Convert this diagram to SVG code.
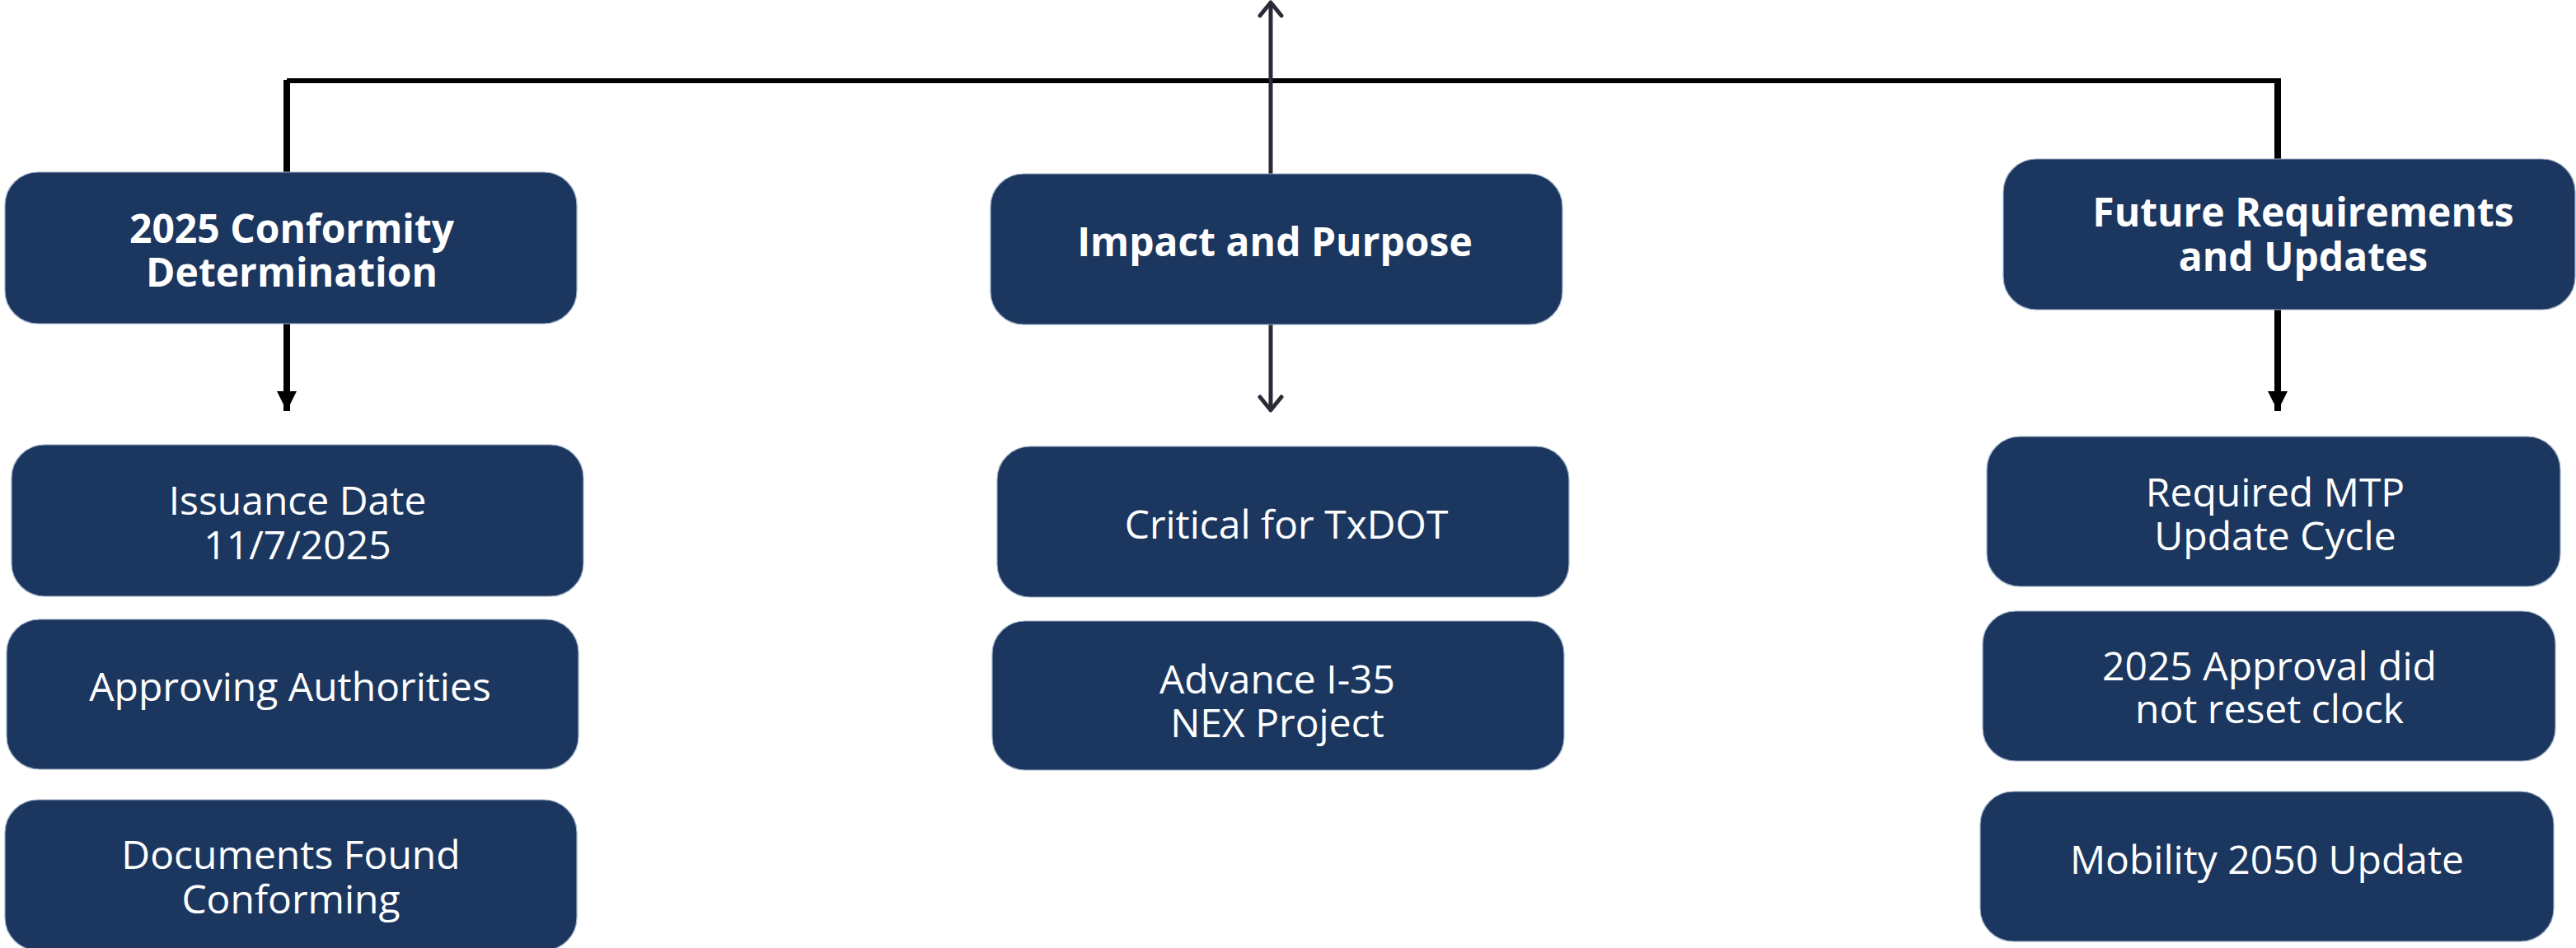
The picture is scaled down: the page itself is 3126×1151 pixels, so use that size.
<svg xmlns="http://www.w3.org/2000/svg" width="3126" height="1151" viewBox="0 0 3126 1151">
<defs>
<style>
.box{fill:#1b375f;stroke:#9fb0c6;stroke-width:1.2}
.h{font-family:"Open Sans","Noto Sans",sans-serif;font-weight:700;font-size:48px;fill:#fff;text-anchor:middle}
.t{font-family:"Open Sans","Noto Sans",sans-serif;font-weight:400;font-size:48px;fill:#fff;text-anchor:middle}
.blk{stroke:#000;stroke-width:8;fill:none}
.hz{stroke:#000;stroke-width:6;fill:none}
.mid{stroke:#2b2b38;stroke-width:5;fill:none}
</style>
<marker id="tri" viewBox="0 0 24 24" markerWidth="24" markerHeight="24" refX="24" refY="12" orient="auto" markerUnits="userSpaceOnUse">
<path d="M0,0 L24,12 L0,24 Z" fill="#000"/>
</marker>
<marker id="chev" viewBox="0 0 22 32" markerWidth="22" markerHeight="32" refX="19" refY="16" orient="auto" markerUnits="userSpaceOnUse">
<path d="M3,3 L19,16 L3,29" fill="none" stroke="#2b2b38" stroke-width="5" stroke-linecap="round" stroke-linejoin="round"/>
</marker>
</defs>
<rect width="3126" height="1151" fill="#fff"/>
<g id="connectors">
<path class="hz" d="M348,98 L2768,98"/>
<path class="blk" d="M348,97 L348,210"/>
<path class="blk" d="M2764,97 L2764,193"/>
<path class="blk" d="M348,393 L348,499" marker-end="url(#tri)"/>
<path class="blk" d="M2764,376 L2764,499" marker-end="url(#tri)"/>
<path class="mid" d="M1542,211 L1542,3" marker-end="url(#chev)"/>
<path class="mid" d="M1542,394 L1542,498" marker-end="url(#chev)"/>
</g>
<g id="n-conformity">
<rect class="box" x="6" y="209" width="694" height="184" rx="40"/>
<text class="h" x="354" y="295">2025 Conformity</text>
<text class="h" x="354" y="348">Determination</text>
</g>
<g id="n-impact">
<rect class="box" x="1202" y="211" width="694" height="183" rx="40"/>
<text class="h" x="1547" y="311">Impact and Purpose</text>
</g>
<g id="n-future">
<rect class="box" x="2431" y="193" width="694" height="183" rx="40"/>
<text class="h" x="2795" y="275">Future Requirements</text>
<text class="h" x="2795" y="329">and Updates</text>
</g>
<g id="n-issuance">
<rect class="box" x="14" y="540" width="694" height="184" rx="40"/>
<text class="t" x="361" y="625">Issuance Date</text>
<text class="t" x="361" y="679">11/7/2025</text>
</g>
<g id="n-approving">
<rect class="box" x="8" y="752" width="694" height="182" rx="40"/>
<text class="t" x="352" y="851">Approving Authorities</text>
</g>
<g id="n-documents">
<rect class="box" x="6" y="971" width="694" height="183" rx="40"/>
<text class="t" x="353" y="1055">Documents Found</text>
<text class="t" x="353" y="1109">Conforming</text>
</g>
<g id="n-critical">
<rect class="box" x="1210" y="542" width="694" height="183" rx="40"/>
<text class="t" x="1561" y="654">Critical for TxDOT</text>
</g>
<g id="n-advance">
<rect class="box" x="1204" y="754" width="694" height="181" rx="40"/>
<text class="t" x="1550" y="842">Advance I-35</text>
<text class="t" x="1550" y="895">NEX Project</text>
</g>
<g id="n-mtp">
<rect class="box" x="2411" y="530" width="696" height="182" rx="40"/>
<text class="t" x="2761" y="615">Required MTP</text>
<text class="t" x="2761" y="668">Update Cycle</text>
</g>
<g id="n-reset">
<rect class="box" x="2406" y="742" width="695" height="182" rx="40"/>
<text class="t" x="2754" y="826">2025 Approval did</text>
<text class="t" x="2754" y="878">not reset clock</text>
</g>
<g id="n-mobility">
<rect class="box" x="2403" y="961" width="696" height="182" rx="40"/>
<text class="t" x="2751" y="1061">Mobility 2050 Update</text>
</g>
</svg>
